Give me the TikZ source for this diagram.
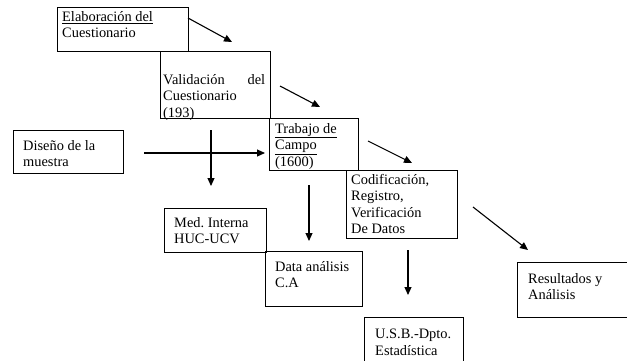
\documentclass[tikz,border=0pt]{standalone}
\usepackage{fontspec}
\setmainfont{Liberation Serif}
\usetikzlibrary{arrows.meta}
\frenchspacing
\begin{document}
\begin{tikzpicture}[x=1pt,y=-1pt,
  box/.style={draw=black,line width=0.9pt,inner sep=0pt,outer sep=0pt,anchor=north west},
  txt/.style={inner sep=0pt,anchor=north west,align=left,font=\fontsize{14.4pt}{16.5pt}\selectfont},
  arr/.style={line width=1.1pt,-{Triangle[length=8pt,width=7pt]}}]
\useasboundingbox (0,0) rectangle (627,360);
% boxes
\node[box,minimum width=131pt,minimum height=44pt] (elab) at (57,7) {};
\node[box,minimum width=110pt,minimum height=67pt] (valid) at (160,51) {};
\node[box,minimum width=110pt,minimum height=43pt] (dis) at (13,130) {};
\node[box,minimum width=89pt,minimum height=52pt] (trab) at (269,118) {};
\node[box,minimum width=111pt,minimum height=68pt] (codif) at (346,170) {};
\node[box,minimum width=102pt,minimum height=44pt] (med) at (164,208) {};
\node[box,minimum width=97pt,minimum height=55pt] (data) at (265,251) {};
\node[box,minimum width=99pt,minimum height=50pt] (usb) at (364,317) {};
\node[box,minimum width=112pt,minimum height=55pt] (res) at (517,262) {};
% texts
\node[txt] (elabt) at (62,11) {\underline{Elaboración del}\\Cuestionario};
\node[txt,text width=102pt] (validt) at (163,74) {Validación\hfill del\\Cuestionario\\(193)};
\node[txt] (dist) at (23,140) {Diseño de la\\muestra};
\node[txt] (trabt) at (275,123) {\underline{Trabajo de}\\\underline{Campo}\\\underline{(1600)}};
\node[txt] (codift) at (351,174) {Codificación,\\Registro,\\Verificación\\De Datos};
\node[txt] (medt) at (174,217) {Med. Interna\\HUC-UCV};
\node[txt] (datat) at (275,261) {Data análisis\\C.A};
\node[txt] (usbt) at (375,329) {U.S.B.-Dpto.\\Estadística};
\node[txt] (rest) at (528,273) {Resultados y\\Análisis};
% arrow end points
\coordinate (a1s) at (188,18);  \coordinate (a1e) at (232,42);
\coordinate (a2s) at (280,86);  \coordinate (a2e) at (320,107);
\coordinate (a3s) at (144,153); \coordinate (a3e) at (265,153);
\coordinate (a4s) at (211,130); \coordinate (a4e) at (211,186);
\coordinate (a5s) at (368,141); \coordinate (a5e) at (412,163);
\coordinate (a6s) at (309,185); \coordinate (a6e) at (309,241);
\coordinate (a7s) at (473,207); \coordinate (a7e) at (528,250);
\coordinate (a8s) at (408,250); \coordinate (a8e) at (408,295);
\draw[arr] (a1s) -- (a1e);
\draw[arr] (a2s) -- (a2e);
\draw[arr] (a3s) -- (a3e);
\draw[arr] (a4s) -- (a4e);
\draw[arr] (a5s) -- (a5e);
\draw[arr] (a6s) -- (a6e);
\draw[arr] (a7s) -- (a7e);
\draw[arr] (a8s) -- (a8e);
\end{tikzpicture}
\end{document}
